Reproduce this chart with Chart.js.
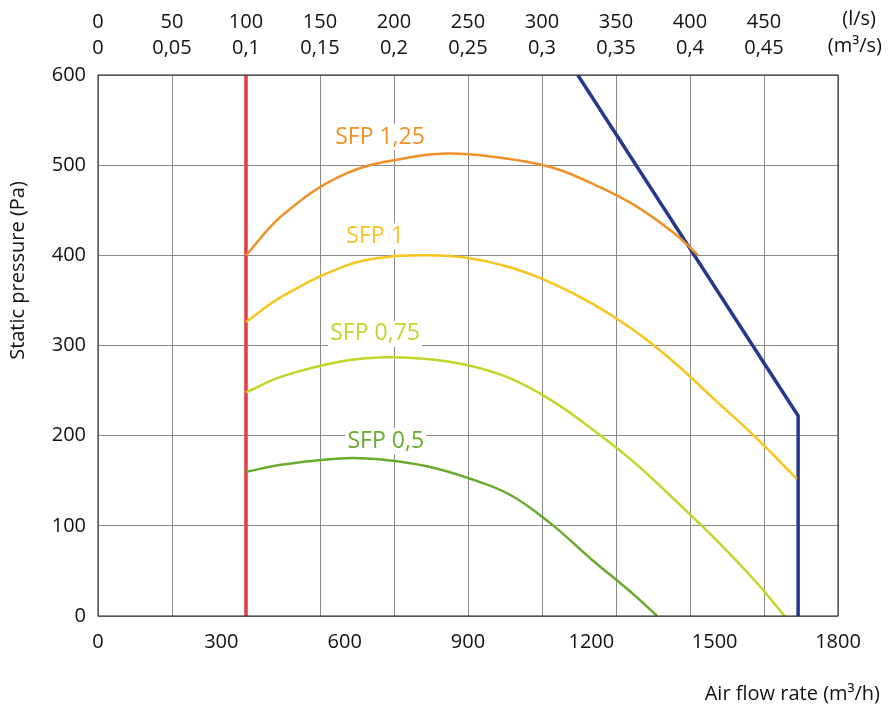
<!DOCTYPE html>
<html><head><meta charset="utf-8">
<script src="https://cdn.jsdelivr.net/npm/chart.js@4"></script>
<style>html,body{margin:0;padding:0;background:#fff}#w{width:895px;height:715px}</style>
</head><body><div id="w"><canvas id="c"></canvas></div>
<script>
const redX = [360, 360], redY = [0, 600];
const blueX = [1167, 1703, 1703], blueY = [600, 222, 0];
const sfp125X = [360,450,600,750,850,950,1100,1200,1300,1400,1460];
const sfp125Y = [400,445,490,508,513,510,498,480,457,425,400];
const sfp1X = [360,450,600,700,800,900,1000,1100,1200,1300,1400,1500,1600,1700];
const sfp1Y = [326,355,388,398,400,397,387,370,347,318,282,240,198,152];
const sfp075X = [360,450,600,700,800,900,1000,1100,1200,1300,1400,1500,1600,1670];
const sfp075Y = [248,266,283,287,285,278,264,240,208,172,130,86,38,0];
const sfp05X = [360,450,600,700,800,900,1000,1100,1200,1300,1360];
const sfp05Y = [160,168,175,173,166,153,135,103,63,25,0];
const curveLabels = [
  {text:'SFP 1,25', x:686, y:531, color:'#ef9128'},
  {text:'SFP 1', x:674, y:421, color:'#f7c51e'},
  {text:'SFP 0,75', x:674, y:313, color:'#c2d62a'},
  {text:'SFP 0,5', x:700, y:194, color:'#6aaa2f'}
];
const pts=(xs,ys)=>xs.map((x,i)=>({x,y:ys[i]}));
const F='"Open Sans", "Liberation Sans", sans-serif';
function ds(d,c,w,t){return {data:d,borderColor:c,borderWidth:w,pointRadius:0,tension:t,fill:false};}
const deco={id:'deco',afterDatasetsDraw(ch){
  const c=ch.ctx,xs=ch.scales.x,ys=ch.scales.y,a=ch.chartArea;
  c.save();
  c.font='23px '+F;c.textAlign='center';c.textBaseline='middle';
  curveLabels.forEach(l=>{const px=xs.getPixelForValue(l.x),py=ys.getPixelForValue(l.y);
    const w=c.measureText(l.text).width;c.fillStyle='#fff';c.fillRect(px-w/2-2,py-13,w+4,26);
    c.fillStyle=l.color;c.fillText(l.text,px,py);});
  c.strokeStyle='#222';c.lineWidth=1;c.strokeRect(a.left,a.top,a.right-a.left,a.bottom-a.top);
  c.fillStyle='#111';c.font='20px '+F;
  c.textAlign='right';c.textBaseline='alphabetic';
  c.fillText('Air flow rate (m³/h)',880,700);
  c.fillText('(l/s)',876,25);c.fillText('(m³/s)',882,52);
  c.translate(18,a.top+(a.bottom-a.top)/2-75);c.rotate(-Math.PI/2);c.textAlign='center';c.textBaseline='middle';
  c.fillText('Static pressure (Pa)',0,0);
  c.restore();}};
new Chart(document.getElementById('c'),{type:'line',
 data:{datasets:[ds(pts(sfp125X,sfp125Y),'#ef9128',2.5,0.4),ds(pts(sfp1X,sfp1Y),'#f7c51e',2.5,0.4),
   ds(pts(sfp075X,sfp075Y),'#c2d62a',2.5,0.4),ds(pts(sfp05X,sfp05Y),'#6aaa2f',2.5,0.4),
   ds(pts(redX,redY),'#e63a44',3.5,0),ds(pts(blueX,blueY),'#27378c',3.5,0)]},
 options:{responsive:true,maintainAspectRatio:false,animation:false,
  layout:{padding:{left:0,right:57,top:0,bottom:0}},
  plugins:{legend:{display:false},tooltip:{enabled:false}},
  scales:{
   x:{type:'linear',min:0,max:1800,position:'bottom',ticks:{display:false,stepSize:180},
      grid:{color:'#8a8a8a',lineWidth:1,drawTicks:false},border:{display:false},afterFit:s=>{s.height=0}},
   x2:{type:'linear',min:0,max:1800,position:'bottom',grid:{display:false},border:{display:false},
      ticks:{stepSize:300,color:'#111',font:{size:20,family:F},padding:6,callback:v=>String(v)},afterFit:s=>{s.height=99}},
   xt:{type:'linear',min:0,max:1800,position:'top',grid:{display:false},border:{display:false},
      ticks:{stepSize:180,color:'#111',font:{size:20,family:F,lineHeight:1.3},padding:6,
        callback:v=>v>=1800?'':[String(Math.round(v/3.6)),String(+(v/3600).toFixed(2)).replace('.',',')]},
      afterFit:s=>{s.height=75}},
   y:{min:0,max:600,ticks:{stepSize:100,color:'#111',font:{size:20,family:F},padding:12},
      grid:{color:'#8a8a8a',lineWidth:1,drawTicks:false},border:{display:false},afterFit:s=>{s.width=98}}
  }}, plugins:[deco]});
</script></body></html>
